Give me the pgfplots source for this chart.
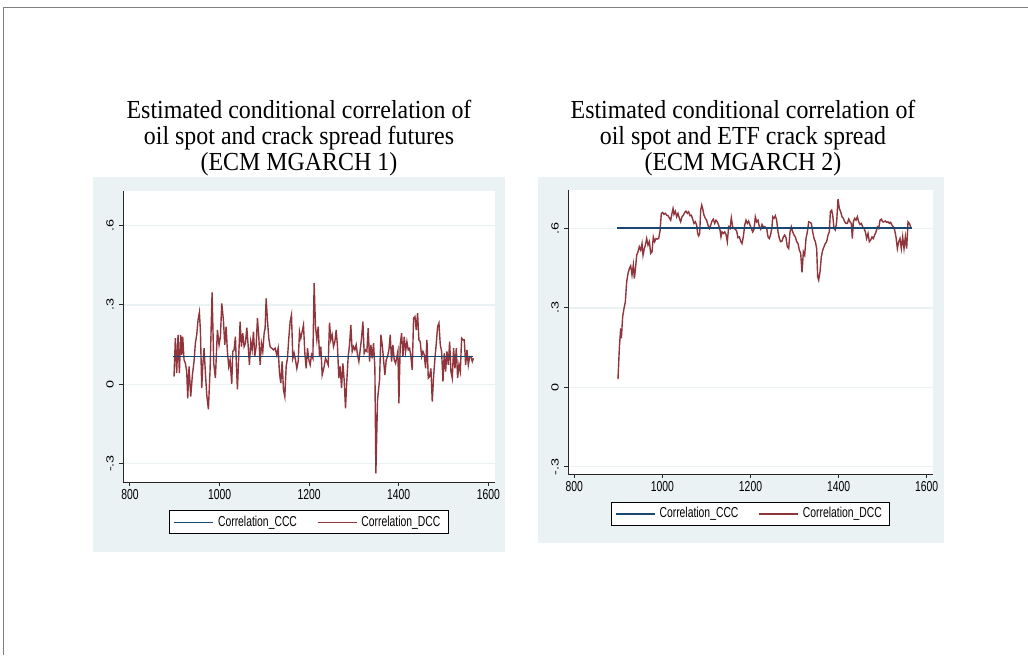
\documentclass[border=0pt]{standalone}
\usepackage{graphicx}
\usepackage{pgfplots}
\pgfplotsset{compat=1.18}
\usepackage{pgfplotstable}
\usepackage{fontspec}
\setmainfont{Liberation Sans}
\newfontfamily\tnr{Liberation Serif}

\definecolor{sbg}{HTML}{EAF2F3}
\definecolor{snavy}{HTML}{1A476F}
\definecolor{smaroon}{HTML}{90353B}
\newcommand\sq[1]{\scalebox{0.72}[1]{#1}}
\newcommand\sqr[1]{\scalebox{1}[0.72]{#1}}

% DCC, model 1
\pgfplotstableread{
x y
898.3 0.029
901.3 0.174
904.3 0.042
907.3 0.187
910.3 0.042
913.2 0.187
915.5 0.111
917.7 0.180
920.7 0.092
923.7 0.079
926.7 0.048
928.9 -0.053
931.9 0.067
935.6 -0.047
939.3 0.035
943.0 0.086
946.0 0.155
949.0 0.187
952.0 0.243
955.0 0.272
957.2 0.205
960.2 -0.015
962.4 0.067
965.4 0.136
968.4 0.042
971.4 -0.040
975.1 -0.095
978.8 0.054
983.3 0.347
987.0 0.079
990.7 0.023
995.2 0.205
998.9 0.149
1001.9 0.180
1004.9 0.306
1008.6 0.243
1011.6 0.149
1014.6 0.218
1017.5 0.124
1020.5 0.067
1023.5 0.092
1027.2 0.001
1029.5 0.124
1032.4 0.130
1035.4 0.180
1037.7 0.067
1039.9 -0.019
1042.9 0.111
1045.9 0.237
1048.8 0.142
1051.8 0.193
1054.8 0.142
1057.8 0.155
1060.8 0.214
1063.7 0.149
1066.7 0.073
1069.7 0.161
1072.7 0.130
1075.7 0.199
1078.6 0.105
1081.6 0.142
1084.6 0.250
1087.6 0.180
1090.6 0.073
1093.5 0.155
1096.5 0.124
1099.5 0.193
1101.7 0.212
1104.0 0.325
1106.9 0.243
1109.9 0.174
1112.9 0.142
1116.6 0.136
1120.4 0.130
1124.1 0.136
1127.8 0.111
1130.8 0.136
1133.8 0.042
1136.7 0.004
1139.7 0.086
1142.7 -0.022
1145.7 -0.047
1148.7 0.067
1151.6 0.098
1154.6 0.174
1157.6 0.237
1160.6 0.262
1163.6 0.098
1166.5 0.117
1169.5 0.092
1172.5 0.060
1175.5 0.086
1178.5 0.199
1181.4 0.174
1184.4 0.199
1187.4 0.224
1190.4 0.117
1193.4 0.060
1196.3 0.136
1199.3 0.092
1202.3 0.073
1205.3 0.111
1208.3 0.098
1211.2 0.382
1214.2 0.218
1217.2 0.168
1220.2 0.218
1223.2 0.105
1226.1 0.142
1229.1 0.035
1233.5 0.067
1236.5 0.098
1239.5 0.086
1242.5 0.073
1245.5 0.233
1248.4 0.168
1251.4 0.187
1254.4 0.142
1257.4 0.161
1260.4 0.205
1263.3 0.142
1266.3 0.023
1269.3 0.067
1272.3 -0.015
1275.3 0.079
1278.2 0.016
1281.2 -0.091
1284.2 0.016
1287.2 0.105
1290.2 0.149
1293.1 0.224
1296.1 0.124
1299.1 0.142
1302.1 0.130
1305.1 0.149
1308.0 0.111
1311.0 0.086
1314.0 0.130
1317.0 0.174
1320.0 0.237
1322.9 0.117
1325.9 0.130
1328.9 0.124
1331.9 0.212
1334.9 0.086
1337.8 0.149
1340.8 0.098
1343.8 0.155
1346.8 0.060
1349.0 -0.337
1352.7 -0.059
1357.2 0.016
1360.2 0.187
1363.2 0.149
1366.2 0.092
1369.1 0.035
1372.1 0.092
1375.1 0.105
1378.1 0.130
1381.1 0.187
1384.0 0.086
1387.0 0.149
1390.0 0.092
1393.0 0.079
1396.0 0.105
1398.2 0.124
1400.4 -0.072
1403.4 0.149
1406.4 0.193
1409.4 0.105
1412.3 0.180
1415.3 0.124
1418.3 0.161
1421.3 0.130
1424.3 0.136
1427.2 0.105
1430.2 0.054
1433.2 0.250
1436.2 0.256
1439.2 0.205
1442.1 0.269
1445.1 0.168
1448.1 0.161
1451.1 0.105
1454.1 0.124
1457.0 0.111
1460.0 0.060
1463.0 0.168
1466.0 0.023
1469.0 0.029
1471.9 0.060
1474.9 -0.066
1477.9 0.029
1480.9 0.098
1483.9 0.155
1486.8 0.218
1489.8 0.231
1492.8 0.149
1495.8 0.124
1498.8 0.010
1501.7 0.117
1504.7 0.048
1507.7 0.124
1510.7 0.073
1513.7 0.161
1516.6 0.048
1519.6 0.023
1522.6 0.136
1525.6 0.060
1528.6 0.136
1531.5 0.023
1534.5 0.073
1537.5 0.048
1540.5 0.174
1543.5 0.168
1546.4 0.168
1549.4 0.073
1552.4 0.130
1555.4 0.073
1558.4 0.105
1561.3 0.105
1564.3 0.086
1566.6 0.098
}\dccone

% DCC, model 2
\pgfplotstableread{
x y
899.2 0.031
902.2 0.147
905.3 0.223
906.8 0.185
909.8 0.267
912.8 0.298
915.9 0.323
918.9 0.399
921.9 0.430
925.0 0.449
928.0 0.459
931.0 0.424
934.0 0.462
936.3 0.411
938.6 0.443
941.6 0.499
944.6 0.512
947.6 0.531
950.7 0.518
953.7 0.543
956.0 0.499
959.0 0.524
961.3 0.537
964.3 0.562
967.3 0.537
970.4 0.550
973.4 0.506
976.4 0.512
979.4 0.568
982.5 0.550
985.5 0.562
988.5 0.560
991.5 0.562
994.6 0.590
997.6 0.657
1000.6 0.660
1003.6 0.653
1006.7 0.657
1009.7 0.650
1012.7 0.648
1015.8 0.640
1018.8 0.631
1021.8 0.657
1024.1 0.675
1026.3 0.653
1029.4 0.665
1032.4 0.644
1035.4 0.657
1038.5 0.638
1041.5 0.625
1044.5 0.644
1047.5 0.650
1050.6 0.660
1053.6 0.665
1056.6 0.657
1059.6 0.663
1062.7 0.648
1065.7 0.650
1068.7 0.635
1071.7 0.619
1074.8 0.625
1077.8 0.612
1080.1 0.581
1082.3 0.572
1084.6 0.581
1086.9 0.669
1089.2 0.688
1091.4 0.675
1094.4 0.650
1097.5 0.638
1100.5 0.631
1103.5 0.612
1106.6 0.600
1109.6 0.612
1112.6 0.628
1115.6 0.635
1118.7 0.619
1121.7 0.631
1124.7 0.625
1127.7 0.612
1130.8 0.594
1133.0 0.568
1135.3 0.587
1138.3 0.581
1141.4 0.587
1144.4 0.577
1147.4 0.550
1150.4 0.606
1153.5 0.600
1156.5 0.640
1159.5 0.606
1162.6 0.600
1165.6 0.597
1168.6 0.590
1171.6 0.565
1174.7 0.568
1177.7 0.552
1180.7 0.543
1183.7 0.568
1186.8 0.612
1189.8 0.631
1192.8 0.619
1195.8 0.628
1198.9 0.612
1201.9 0.600
1204.9 0.587
1208.0 0.597
1211.0 0.644
1214.0 0.625
1217.0 0.631
1220.1 0.606
1223.1 0.597
1226.1 0.615
1229.1 0.606
1233.0 0.606
1236.7 0.600
1239.8 0.568
1242.8 0.562
1245.8 0.577
1248.8 0.606
1250.4 0.644
1253.4 0.638
1256.4 0.648
1259.4 0.631
1262.5 0.587
1265.5 0.562
1268.5 0.550
1271.5 0.552
1274.6 0.568
1277.6 0.575
1280.6 0.565
1283.6 0.531
1286.7 0.524
1289.7 0.587
1292.7 0.606
1295.8 0.587
1298.8 0.575
1301.8 0.568
1304.8 0.550
1307.9 0.543
1310.9 0.518
1313.9 0.506
1317.0 0.434
1320.0 0.512
1323.0 0.499
1326.0 0.562
1329.1 0.587
1332.1 0.625
1335.1 0.623
1338.1 0.619
1341.2 0.587
1344.2 0.562
1347.2 0.550
1350.2 0.524
1352.5 0.418
1354.8 0.405
1357.8 0.436
1360.8 0.493
1363.9 0.518
1366.9 0.531
1369.9 0.543
1372.9 0.550
1376.0 0.575
1379.0 0.587
1381.3 0.663
1384.3 0.669
1386.6 0.650
1389.6 0.600
1392.6 0.594
1395.6 0.625
1398.7 0.711
1401.7 0.675
1404.7 0.663
1407.7 0.644
1410.8 0.638
1413.8 0.625
1416.8 0.619
1419.9 0.619
1422.9 0.635
1425.9 0.625
1428.9 0.619
1431.2 0.562
1433.5 0.625
1436.5 0.638
1439.5 0.631
1442.6 0.644
1445.6 0.625
1448.6 0.615
1451.6 0.619
1454.7 0.606
1457.7 0.600
1460.7 0.587
1463.7 0.562
1466.8 0.581
1469.8 0.550
1472.8 0.556
1475.9 0.568
1478.9 0.562
1481.9 0.575
1484.9 0.587
1488.0 0.606
1491.0 0.600
1494.0 0.631
1497.0 0.635
1500.1 0.625
1503.1 0.625
1506.1 0.628
1509.1 0.623
1512.2 0.625
1515.2 0.619
1518.2 0.623
1521.3 0.612
1524.3 0.606
1527.3 0.594
1530.3 0.568
1533.4 0.524
1536.4 0.550
1539.4 0.562
1542.4 0.524
1545.5 0.568
1548.5 0.524
1551.5 0.568
1554.5 0.524
1557.6 0.625
1560.6 0.619
1563.6 0.606
}\dcctwo

\pgfplotsset{
  stata/.style={
    scale only axis,
    axis lines=left,
    axis line style={-, line width=0.5pt, black!85},
    axis background/.style={fill=white},
    tick align=outside,
    major tick length=1.8pt,
    tick style={black!85, line width=0.5pt},
    xtick={800,1000,1200,1400,1600},
    xticklabels={\sq{800},\sq{1000},\sq{1200},\sq{1400},\sq{1600}},
    ytick={-0.3,0,0.3,0.6},
    yticklabels={\sqr{-.3},\sqr{0},\sqr{.3},\sqr{.6}},
    tick label style={font=\fontsize{7.2}{8}\selectfont},
    yticklabel style={rotate=90, anchor=south, inner sep=2.6pt},
    xticklabel style={inner sep=1.5pt},
    ymajorgrids,
    grid style={sbg, line width=0.6pt},
    legend columns=2,
    reverse legend,
    legend style={at={(0.5,-0.097)}, anchor=north, draw=black, line width=0.6pt,
      fill=white, font=\fontsize{7.2}{8}\selectfont, inner xsep=2pt, inner ysep=0.8pt,
      nodes={inner ysep=1.6pt},
      /tikz/every even column/.append style={column sep=8pt}},
    legend image code/.code={\draw[#1] (0pt,0pt) -- (19.5pt,0pt);},
    legend cell align=left,
  },
}

\begin{document}
\begin{tikzpicture}
\path[use as bounding box] (0,0) rectangle (514pt,-327.5pt);
\fill[white] (0,0) rectangle (514pt,-327.5pt);
\begin{scope}[x=0.5pt, y=-0.5pt]
  \draw[gray, line width=0.5pt] (3,655) -- (3,7) -- (1028,7);
  \fill[sbg] (93,177) rectangle (505,552);
  \fill[sbg] (538,177) rectangle (944,543);
  \begin{scope}[every node/.style={anchor=base, font=\tnr\fontsize{13}{15}\selectfont}]
    \node at (299,118.5) {\scalebox{0.92}[1]{Estimated conditional correlation of}};
    \node at (299,144.5) {\scalebox{0.92}[1]{oil spot and crack spread futures}};
    \node at (299,170) {\scalebox{0.92}[1]{(ECM MGARCH 1)}};
    \node at (743,118.5) {\scalebox{0.92}[1]{Estimated conditional correlation of}};
    \node at (743,144.5) {\scalebox{0.92}[1]{oil spot and ETF crack spread}};
    \node at (743,170) {\scalebox{0.92}[1]{(ECM MGARCH 2)}};
  \end{scope}
\end{scope}

\begin{axis}[stata, at={(61.5pt,-241pt)}, anchor=south west,
  width=186pt, height=145.5pt,
  xmin=784.4, xmax=1615, ymin=-0.37, ymax=0.731]
  \addplot[smaroon, line width=0.7pt] table {\dccone};
  \addlegendentry{\sq{Correlation\_DCC}}
  \addplot[snavy, line width=0.7pt] coordinates {(896,0.106) (1566,0.106)};
  \addlegendentry{\sq{Correlation\_CCC}}
\end{axis}

\begin{axis}[stata, at={(284pt,-237.15pt)}, anchor=south west,
  width=182.5pt, height=142.15pt,
  xmin=785.7, xmax=1614.3, ymin=-0.328, ymax=0.745]
  \addplot[smaroon, line width=0.7pt] table {\dcctwo};
  \addlegendentry{\sq{Correlation\_DCC}}
  \addplot[snavy, line width=0.7pt] coordinates {(896,0.601) (1566,0.601)};
  \addlegendentry{\sq{Correlation\_CCC}}
\end{axis}
\end{tikzpicture}
\end{document}
